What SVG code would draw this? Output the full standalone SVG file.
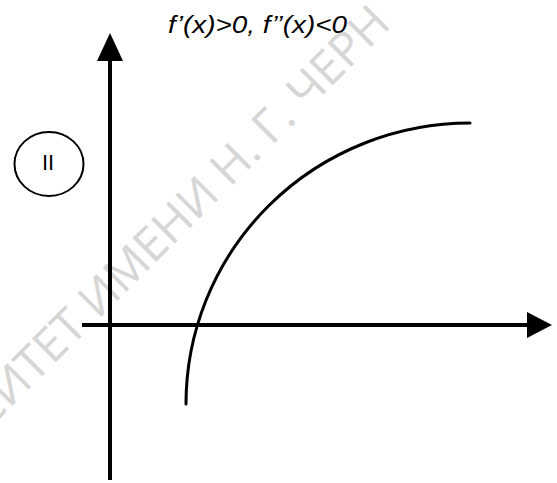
<svg xmlns="http://www.w3.org/2000/svg" width="557" height="483" viewBox="0 0 557 483">
<style>
.ax{stroke:#000;stroke-width:4;fill:none}
.cv{stroke:#000;stroke-width:3;fill:none;stroke-linecap:round}
.wm{font-family:"Open Sans","Liberation Sans",sans-serif;font-size:47px;fill:#d6d6d6}
.lbl{font-family:"Liberation Sans",Arial,sans-serif;fill:#000}
</style>
<rect width="557" height="483" fill="#fff"/>
<g id="watermark">
<text class="wm" transform="translate(-12,430) rotate(-45)">СИТЕТ ИМЕНИ Н. Г. ЧЕРН</text>
</g>
<g id="connectors">
<line class="ax" x1="110" y1="58" x2="110" y2="480"/>
<polygon points="97,61 110,33 123,61" fill="#000"/>
<line class="ax" x1="82" y1="325" x2="530" y2="325"/>
<polygon points="527,312 552,325 527,338" fill="#000"/>
</g>
<g id="curve">
<path class="cv" d="M186,404 A284 281 0 0 1 470,123"/>
</g>
<g id="label-II">
<ellipse cx="49" cy="164" rx="34.5" ry="32" fill="#fff" stroke="#000" stroke-width="2"/>
<text class="lbl" x="48" y="170" font-size="22" text-anchor="middle">II</text>
</g>
<g id="title">
<text class="lbl" x="168" y="33" font-size="23" font-style="italic" textLength="179" lengthAdjust="spacingAndGlyphs">f’(x)&gt;0, f’’(x)&lt;0</text>
</g>
</svg>
